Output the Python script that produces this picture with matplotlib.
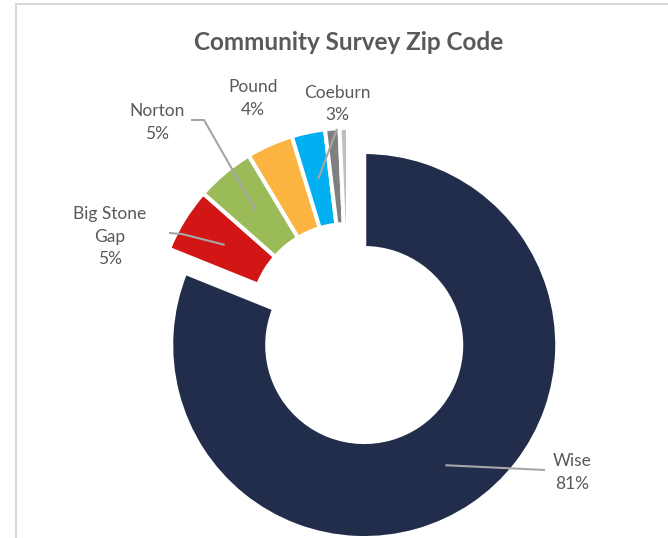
import numpy as np
import matplotlib.pyplot as plt

plt.rcParams["font.family"] = ["Lato", "DejaVu Sans"]

# ------------------------------------------ data (share of respondents)
zips = ["Wise", "Big Stone\nGap", "Norton", "Pound", "Coeburn", "Other", "Unknown"]
share = [0.811, 0.054, 0.049, 0.039, 0.028, 0.012, 0.007]
colors = ["#222D4B", "#D21616", "#9BBB59", "#FBB440", "#00B0F0", "#7F7F7F", "#BFBFBF"]
show_label = [True, True, True, True, True, False, False]

# ------------------------------------------ layout (pixel space, y measured from top)
W, H = 668, 538
center = (348, H - 321)
R_out, ring = 193, 96
explode = [29, 0, 0, 0, 0, 0, 0]   # only the largest slice is pulled out
text_c = "#595959"
lead_c = "#A6A6A6"
line_h = 22.5

# label anchor (x, y of first line) and start of the leader line
label_pos = {
    "Wise": ((572, 460), (545, 470)),
    "Big Stone\nGap": ((110, 213), (169, 233)),
    "Norton": ((157, 110), (191, 120)),
    "Pound": ((253, 86), None),
    "Coeburn": ((337, 91), (337, 129)),
}
elbow2 = {"Big Stone\nGap": (182, 234), "Norton": (204, 120)}

fig = plt.figure(figsize=(W / 100, H / 100), dpi=100)
ax = fig.add_axes([0, 0, 1, 1])

wedges, _ = ax.pie(share, colors=colors, startangle=90, counterclock=False,
                   radius=R_out, center=center, explode=explode,
                   wedgeprops=dict(width=ring, linewidth=2.9, edgecolor="white"),
                   frame=True)

ax.set_xlim(0, W)
ax.set_ylim(0, H)
ax.set_aspect("equal")
ax.axis("off")

# frame of the chart area
ax.add_patch(plt.Rectangle((16, -20), W + 40, H - 4 + 20, fill=False,
                           edgecolor="#D9D9D9", linewidth=1.5, clip_on=False))

ax.text(349, H - 43, "Community Survey Zip Code", ha="center", va="center",
        fontsize=17.5, fontweight="bold", color=text_c)

# data labels with leader lines
for w, name, val, show in zip(wedges, zips, share, show_label):
    if not show:
        continue
    (tx, ty), el = label_pos[name]
    lines = name.split("\n") + ["%d%%" % round(val * 100)]
    for i, s in enumerate(lines):
        ax.text(tx, H - (ty + i * line_h), s, ha="center", va="center_baseline",
                fontsize=12.5, color=text_c)
    if el is None:
        continue
    th = np.deg2rad((w.theta1 + w.theta2) / 2)
    rm = w.r - w.width / 2
    px = w.center[0] + rm * np.cos(th)
    py = w.center[1] + rm * np.sin(th)
    xs, ys = [el[0]], [H - el[1]]
    if name in elbow2:
        xs.append(elbow2[name][0]); ys.append(H - elbow2[name][1])
    xs.append(px); ys.append(py)
    ax.plot(xs, ys, color=lead_c, linewidth=1.5, solid_capstyle="butt")

fig.savefig("out.png", dpi=100, facecolor="white")
